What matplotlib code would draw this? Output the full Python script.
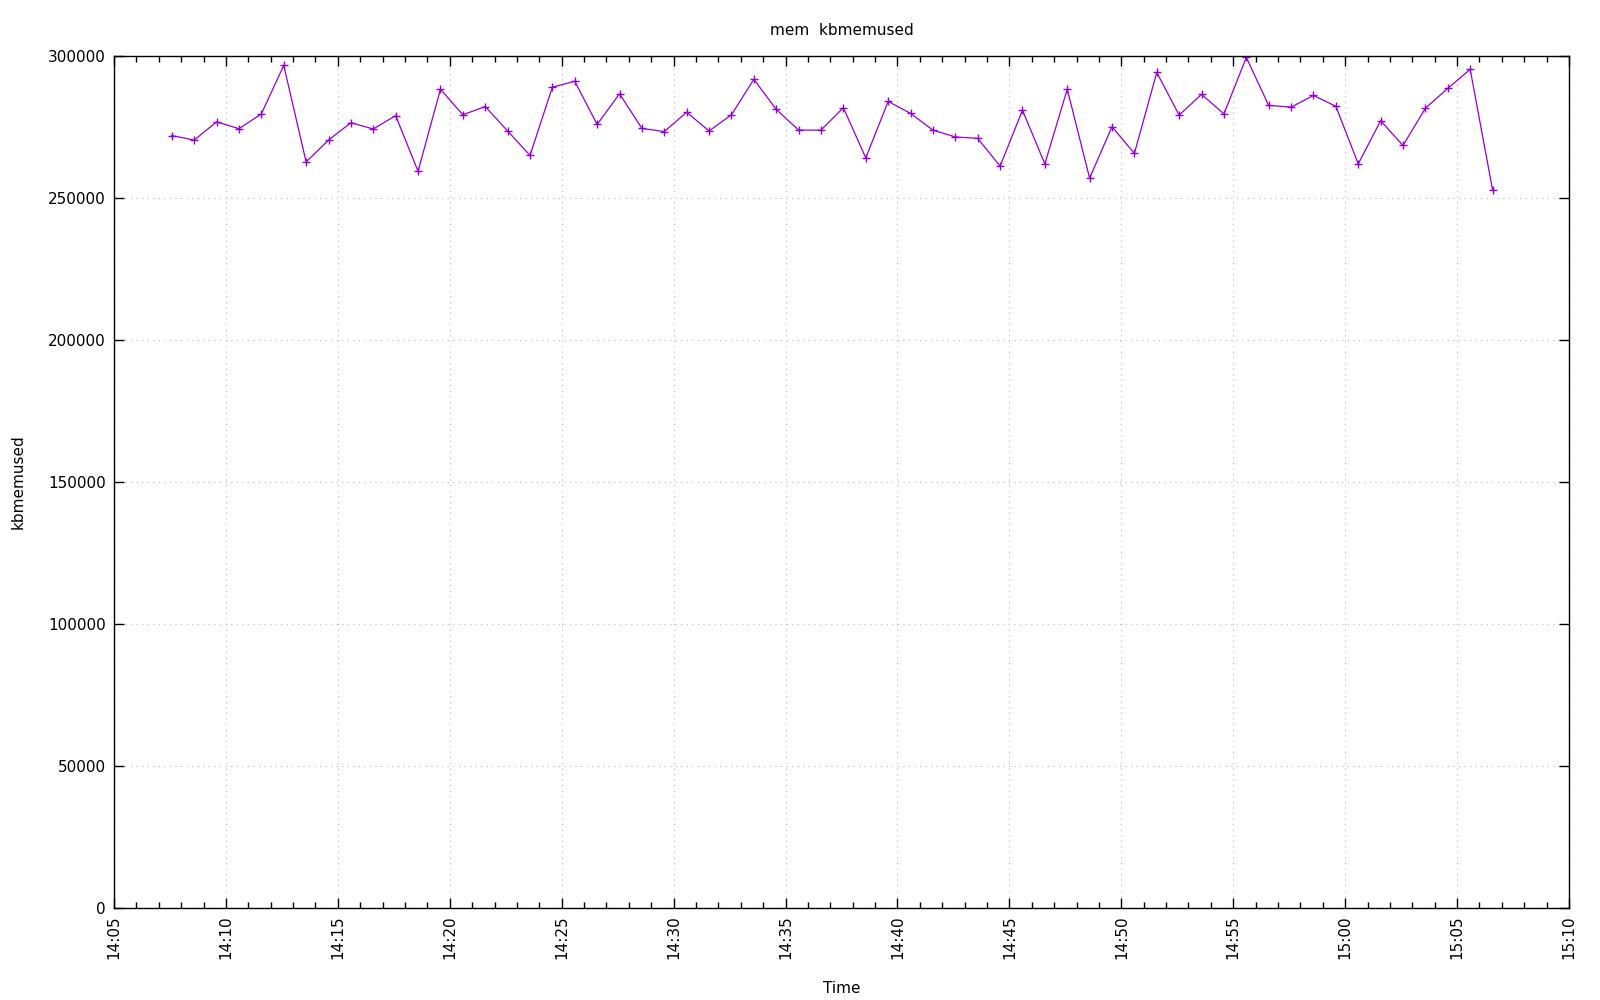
import datetime as dt
import matplotlib
matplotlib.use("Agg")
import matplotlib.pyplot as plt
import matplotlib.dates as mdates

start_time = "14:07:35"
interval_s = 60
kbmemused = [
    272000, 270400, 276800, 274400, 279600, 296700, 262700, 270400, 276500, 274300,
    279000, 259400, 288300, 279300, 282200, 273600, 265000, 289000, 291100, 275900,
    286700, 274500, 273400, 280200, 273600, 279300, 291800, 281200, 273900, 273900,
    281800, 264100, 284000, 279800, 273900, 271500, 271000, 261200, 280900, 262000,
    288300, 257000, 275100, 265700, 294200, 279200, 286500, 279600, 299500, 282600,
    282000, 286100, 282300, 262000, 277200, 268500, 281600, 288600, 295300, 252900,
]
x_start, x_end = "14:05", "15:10"
y_ticks = [0, 50000, 100000, 150000, 200000, 250000, 300000]

day = dt.date(2024, 1, 1)
t0 = dt.datetime.combine(day, dt.time.fromisoformat(start_time))
times = [t0 + dt.timedelta(seconds=interval_s * i) for i in range(len(kbmemused))]

fig = plt.figure(figsize=(16, 10), dpi=100)
ax = fig.add_axes([0.07125, 0.092, 0.9094, 0.852])

ax.plot(times, kbmemused, color="#9400d3", linewidth=0.9,
        marker="+", markersize=6, markeredgewidth=1.0)

ax.set_xlim(dt.datetime.combine(day, dt.time.fromisoformat(x_start)),
            dt.datetime.combine(day, dt.time.fromisoformat(x_end)))
ax.set_ylim(0, 300000)
ax.set_yticks(y_ticks)
ax.set_yticklabels([str(v) for v in y_ticks])

ax.xaxis.set_major_locator(mdates.MinuteLocator(byminute=range(0, 60, 5)))
ax.xaxis.set_minor_locator(mdates.MinuteLocator())
ax.xaxis.set_major_formatter(mdates.DateFormatter("%H:%M"))

ax.tick_params(which="both", direction="in", top=True, right=True,
               labelsize=11, colors="black")
ax.tick_params(which="major", length=7, width=1)
ax.tick_params(which="minor", length=4, width=1)
ax.tick_params(axis="x", which="major", labelrotation=90, pad=5)
ax.tick_params(axis="y", pad=6)

ax.grid(True, which="major", linestyle=(0, (1, 4)), color="#bbbbbb", linewidth=0.8)
for s in ax.spines.values():
    s.set_linewidth(1.0)

ax.set_title("mem  kbmemused", fontsize=11, pad=15)
ax.set_xlabel("Time", fontsize=11, labelpad=16)
ax.set_ylabel("kbmemused", fontsize=11, labelpad=16)

fig.savefig("out.png", dpi=100)
